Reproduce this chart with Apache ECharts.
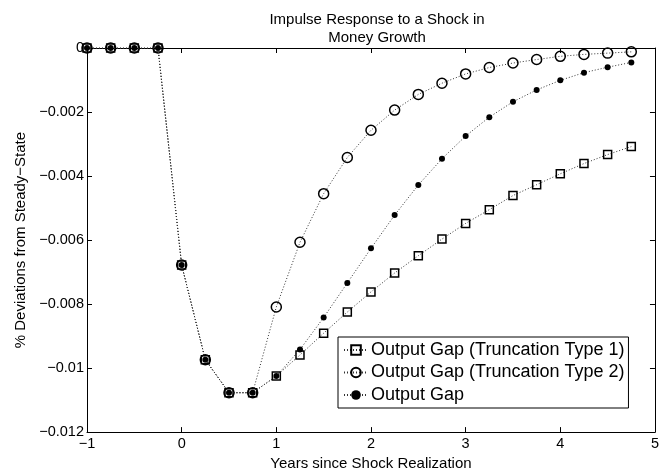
<!DOCTYPE html>
<html>
<head>
<meta charset="utf-8">
<script src="https://cdn.jsdelivr.net/npm/echarts@6/dist/echarts.min.js"></script>
<style>
html,body{margin:0;padding:0;background:#fff;}
#chart{width:662px;height:476px;}
</style>
</head>
<body>
<div id="chart"></div>
<script>
const years = [-1, -0.75, -0.5, -0.25, 0, 0.25, 0.5, 0.75, 1, 1.25, 1.5, 1.75, 2, 2.25, 2.5, 2.75, 3, 3.25, 3.5, 3.75, 4, 4.25, 4.5, 4.75];
const gapType1 = [0, 0, 0, 0, -0.00678, -0.00974, -0.01077, -0.01077, -0.01025, -0.00959, -0.00891, -0.00825, -0.00762, -0.00703, -0.00649, -0.00597, -0.00548, -0.00505, -0.00461, -0.00427, -0.00393, -0.00361, -0.00333, -0.00308];
const gapType2 = [0, 0, 0, 0, -0.00678, -0.00974, -0.01077, -0.01077, -0.00809, -0.00607, -0.00455, -0.00342, -0.00257, -0.00194, -0.00145, -0.00110, -0.00081, -0.00061, -0.00047, -0.00036, -0.00026, -0.00020, -0.00016, -0.00012];
const gapFull = [0, 0, 0, 0, -0.00678, -0.00974, -0.01077, -0.01077, -0.01025, -0.00942, -0.00842, -0.00734, -0.00626, -0.00522, -0.00428, -0.00346, -0.00275, -0.00216, -0.00168, -0.00131, -0.00101, -0.00077, -0.00060, -0.00045];
const seriesNames = ['Output Gap (Truncation Type 1)', 'Output Gap (Truncation Type 2)', 'Output Gap'];
const xTicks = [-1, 0, 1, 2, 3, 4, 5];
const yTicks = [-0.012, -0.01, -0.008, -0.006, -0.004, -0.002, 0];

const FONT = 'Liberation Sans, Arial, Helvetica, sans-serif';
const pair = (ys) => years.map((x, i) => [x, ys[i]]);
const fmt = (v) => String(+(+v).toFixed(4)).replace('-', '\u2212');
const lineStyle = { color: '#333', width: 1, type: [1, 2] };

const baseAxis = {
  axisLine: { show: true, onZero: false, lineStyle: { color: '#000', width: 1 } },
  axisTick: { show: true, inside: true, length: 5, lineStyle: { color: '#000', width: 1 } },
  splitLine: { show: false }
};

const chart = echarts.init(document.getElementById('chart'), null, { renderer: 'canvas' });
chart.setOption({
  animation: false,
  backgroundColor: '#fff',
  title: {
    text: 'Impulse Response to a Shock in\nMoney Growth',
    left: 372, top: 6, textAlign: 'center',
    textStyle: { fontFamily: FONT, fontSize: 15, fontWeight: 'normal', color: '#000', lineHeight: 18 }
  },
  grid: { left: 87, right: 5, top: 48, bottom: 41, containLabel: false },
  legend: {
    data: seriesNames,
    orient: 'vertical',
    left: 338, top: 337,
    backgroundColor: '#fff',
    borderColor: '#000', borderWidth: 1,
    padding: [4, 4, 4, 5],
    itemGap: 4.5,
    itemWidth: 24, itemHeight: 12,
    textStyle: { fontFamily: FONT, fontSize: 18, color: '#000', lineHeight: 18, padding: [0, 0, 0, -2] }
  },
  xAxis: [
    Object.assign({}, baseAxis, {
      type: 'value', min: -1, max: 5, interval: 1, position: 'bottom',
      name: 'Years since Shock Realization', nameLocation: 'middle', nameGap: 19,
      nameTextStyle: { fontFamily: FONT, fontSize: 15, color: '#000' },
      axisLabel: { fontFamily: FONT, fontSize: 14.5, color: '#000', margin: 4, formatter: fmt,
        customValues: xTicks },
    }),
    Object.assign({}, baseAxis, {
      type: 'value', min: -1, max: 5, interval: 1, position: 'top',
      axisLabel: { show: false }
    })
  ],
  yAxis: [
    Object.assign({}, baseAxis, {
      type: 'value', min: -0.012, max: 0, interval: 0.002, position: 'left',
      name: '% Deviations from Steady\u2212State', nameLocation: 'middle', nameGap: 53,
      nameTextStyle: { fontFamily: FONT, fontSize: 15, color: '#000' },
      axisLabel: { fontFamily: FONT, fontSize: 14.5, color: '#000', margin: 3, formatter: fmt,
        customValues: yTicks }
    }),
    Object.assign({}, baseAxis, {
      type: 'value', min: -0.012, max: 0, interval: 0.002, position: 'right',
      axisLabel: { show: false }
    })
  ],
  series: [
    {
      name: seriesNames[0], type: 'line', data: pair(gapType1),
      symbol: 'rect', symbolSize: 8,
      itemStyle: { color: 'rgba(0,0,0,0)', borderColor: '#000', borderWidth: 1.5 },
      lineStyle: lineStyle, z: 2
    },
    {
      name: seriesNames[1], type: 'line', data: pair(gapType2),
      symbol: 'circle', symbolSize: 10,
      itemStyle: { color: 'rgba(0,0,0,0)', borderColor: '#000', borderWidth: 1.5 },
      lineStyle: lineStyle, z: 3
    },
    {
      name: seriesNames[2], type: 'line', data: pair(gapFull),
      symbol: 'circle', symbolSize: 6,
      itemStyle: { color: '#000', borderColor: '#000', borderWidth: 0 },
      lineStyle: lineStyle, z: 4
    }
  ]
});
</script>
</body>
</html>
